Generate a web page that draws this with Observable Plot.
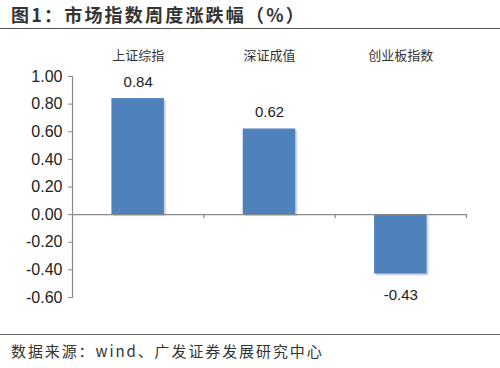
<!DOCTYPE html>
<html><head><meta charset="utf-8">
<script src="https://cdn.jsdelivr.net/npm/d3@7"></script>
<script src="https://cdn.jsdelivr.net/npm/@observablehq/plot@0.6"></script>
<style>
body{margin:0;background:#fff;}
#title{height:29px;border-bottom:1.5px solid #555;font-size:18px;letter-spacing:2.2px;font-weight:bold;color:#333;padding-left:11px;line-height:28px;box-sizing:border-box;font-family:"Noto Sans CJK SC",sans-serif;}
#chart{height:305px;}
#cap{border-top:1.5px solid #666;font-size:15px;letter-spacing:1.9px;color:#333;padding-left:11px;padding-top:5px;font-family:"Noto Sans CJK SC",sans-serif;}
</style></head><body>
<div id="title">图1：市场指数周度涨跌幅（%）</div>
<div id="chart"></div>
<div id="cap">数据来源：wind、广发证券发展研究中心</div>
<script>
const categories = ["上证综指","深证成值","创业板指数"];
const values = [0.84, 0.62, -0.43];
const yTicks = [-0.6,-0.4,-0.2,0,0.2,0.4,0.6,0.8,1.0];
const data = categories.map((c,i)=>({i, cat:c, v:values[i]}));
const bounds = categories.map((c,i)=>i+1);
const plot = Plot.plot({
  width:500, height:305,
  marginLeft:72, marginRight:34, marginTop:47, marginBottom:37,
  style:{fontFamily:"Liberation Sans, Arial, sans-serif", fontSize:"13px", color:"#222", overflow:"visible"},
  x:{domain:[0, categories.length], label:null},
  y:{domain:[-0.6,1.0], label:null},
  marks:[
    Plot.axisY({ticks:yTicks, tickFormat:d=>d.toFixed(2), tickSize:4, tickPadding:6, stroke:"#888", fontSize:16, color:"#222"}),
    Plot.frame({anchor:"left", stroke:"#888", strokeWidth:1.2}),
    Plot.axisX({anchor:"top", ticks:categories.map((c,i)=>i+0.5), tickFormat:d=>categories[Math.floor(d)], tickSize:0, tickPadding:17, fontSize:13, fontFamily:"Noto Sans CJK SC, sans-serif", color:"#333"}),
    Plot.rectY(data, {x1:d=>d.i+0.3, x2:d=>d.i+0.7, y:"v", fill:"#1f3a5f", opacity:0.2, dx:2, dy:2}),
    Plot.rectY(data, {x1:d=>d.i+0.3, x2:d=>d.i+0.7, y:"v", fill:"#4F81BD"}),
    Plot.ruleY([0], {stroke:"#888", strokeWidth:1.2}),
    Plot.ruleX(bounds, {x:d=>d, y1:0, y2:0, insetBottom:-4, stroke:"#888", strokeWidth:1.2}),
    Plot.text(data.filter(d=>d.v>=0), {x:d=>d.i+0.5, y:"v", text:d=>d.v.toFixed(2), lineAnchor:"bottom", dy:-12, fontSize:15, fill:"#222"}),
    Plot.text(data.filter(d=>d.v<0), {x:d=>d.i+0.5, y:"v", text:d=>d.v.toFixed(2), lineAnchor:"top", dy:15, fontSize:15, fill:"#222"})
  ]
});
document.getElementById("chart").appendChild(plot);
</script>
</body></html>
